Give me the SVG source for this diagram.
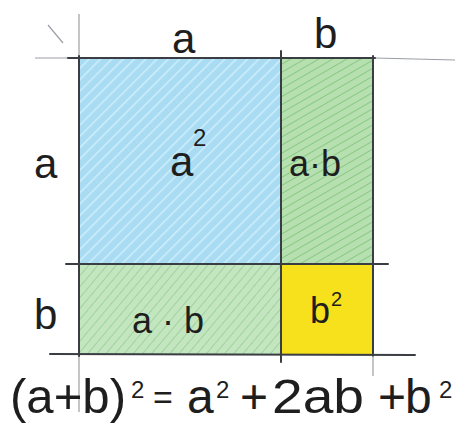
<svg xmlns="http://www.w3.org/2000/svg" width="456" height="423" viewBox="0 0 456 423">
  <style>
    .lbl { font-family: "Liberation Sans", "DejaVu Sans", sans-serif; fill: #1e1e1e; }
    .big { font-size: 42px; }
    .mid { font-size: 36px; }
    .eq { font-size: 48px; }
    .eqs { font-size: 34px; }
    .sup { font-size: 24px; }
    .sup2 { font-size: 20px; }
    .ln { stroke: #3a3d42; stroke-width: 2; fill: none; stroke-linecap: round; }
    .faint { stroke: #9a9ea4; stroke-width: 1.2; fill: none; }
  </style>
  <defs>
    <pattern id="hatchBlue" width="8" height="8" patternUnits="userSpaceOnUse" patternTransform="rotate(45)">
      <rect width="8" height="8" fill="#a9dcf3"/>
      <line x1="0" y1="0" x2="0" y2="8" stroke="#cdeefb" stroke-width="3"/>
    </pattern>
    <pattern id="hatchGreen" width="7" height="7" patternUnits="userSpaceOnUse" patternTransform="rotate(60)">
      <rect width="7" height="7" fill="#b6e0b0"/>
      <line x1="0" y1="0" x2="0" y2="7" stroke="#7fc27a" stroke-width="1.6"/>
    </pattern>
    <pattern id="hatchGreen2" width="7" height="7" patternUnits="userSpaceOnUse" patternTransform="rotate(40)">
      <rect width="7" height="7" fill="#c3e6c0"/>
      <line x1="0" y1="0" x2="0" y2="7" stroke="#8fcb8b" stroke-width="1.4"/>
    </pattern>
  </defs>

  <rect width="456" height="423" fill="#ffffff"/>

  <g id="sq-a2">
    <rect x="80" y="59" width="201" height="205" fill="url(#hatchBlue)"/>
    <text class="lbl big" x="170" y="176">a</text>
    <text class="lbl sup" x="193" y="146">2</text>
  </g>

  <g id="rect-ab-right">
    <rect x="281" y="59" width="92" height="205" fill="url(#hatchGreen)"/>
    <text class="lbl mid" x="289" y="176">a·b</text>
  </g>

  <g id="rect-ab-bottom">
    <rect x="80" y="264" width="201" height="90" fill="url(#hatchGreen2)"/>
    <text class="lbl mid" x="132" y="333">a · b</text>
  </g>

  <g id="sq-b2">
    <rect x="281" y="264" width="92" height="90" fill="#f7e11c"/>
    <text class="lbl mid" x="310" y="323">b</text>
    <text class="lbl sup2" x="331" y="306">2</text>
  </g>

  <g id="connectors">
    <line class="faint" x1="35" y1="58" x2="70" y2="58"/>
    <line class="faint" x1="375" y1="58" x2="455" y2="60"/>
    <line class="ln" x1="68" y1="58" x2="375" y2="58"/>
    <line class="faint" x1="79" y1="14" x2="79" y2="412"/>
    <line class="ln" x1="79" y1="56" x2="79" y2="356"/>
    <line class="ln" x1="66" y1="264" x2="388" y2="264"/>
    <line class="ln" x1="50" y1="354" x2="415" y2="355"/>
    <line class="ln" x1="281" y1="51" x2="281" y2="362"/>
    <line class="ln" x1="373" y1="56" x2="373" y2="356"/>
    <line class="faint" x1="373" y1="356" x2="373" y2="376"/>
    <line class="faint" x1="48" y1="25" x2="63" y2="43"/>
  </g>

  <g id="axis-labels">
    <text class="lbl big" x="172" y="53">a</text>
    <text class="lbl big" x="314" y="48">b</text>
    <text class="lbl big" x="34" y="178">a</text>
    <text class="lbl big" x="34" y="329">b</text>
  </g>

  <g id="equation">
    <text class="lbl eq" x="10" y="413" textLength="116" lengthAdjust="spacingAndGlyphs">(a+b)</text>
    <text class="lbl sup" x="131" y="398">2</text>
    <text class="lbl eqs" x="153" y="409">=</text>
    <text class="lbl eq" x="187" y="413">a</text>
    <text class="lbl sup" x="216" y="398">2</text>
    <text class="lbl eq" x="240" y="413">+</text>
    <text class="lbl eq" x="272" y="413" textLength="92" lengthAdjust="spacingAndGlyphs">2ab</text>
    <text class="lbl eq" x="378" y="413">+</text>
    <text class="lbl eq" x="405" y="413">b</text>
    <text class="lbl sup" x="439" y="398">2</text>
  </g>
</svg>
